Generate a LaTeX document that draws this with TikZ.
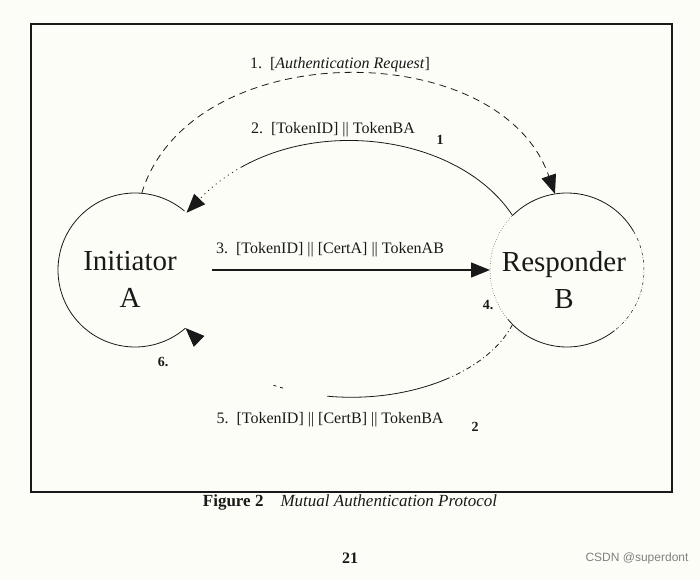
\documentclass[tikz,border=0pt]{standalone}
\usepackage{fontspec}
\setmainfont{Liberation Serif}
\setsansfont{Liberation Sans}
\usetikzlibrary{arrows.meta}
\definecolor{paper}{RGB}{253,253,248}
\definecolor{ink}{RGB}{25,25,25}

\begin{document}
\begin{tikzpicture}[x=1pt, y=1pt, draw=ink, line width=0.8pt,
    party/.style={circle, minimum size=154pt, inner sep=0pt, outer sep=0pt},
    partyname/.style={align=center, text=ink, font=\fontsize{29}{37}\selectfont},
    msg/.style={text=ink, font=\fontsize{16}{18}\selectfont},
    refnum/.style={text=ink, font=\bfseries\fontsize{14}{16}\selectfont},
    tip/.style={-{Triangle[length=19pt, width=15pt]}}]

    \fill[paper] (0,0) rectangle (700,580);
    \useasboundingbox (0,0) rectangle (700,580);
    \draw[line width=1.4pt] (31,88) rectangle (672,556);

    \node[party] (ini) at (135,310) {};
    \node[party] (resp) at (567,310) {};
    \node[partyname] (initxt) at ([shift={(-5pt,-9.5pt)}]ini.center) {Initiator\\A};
    \node[partyname] (resptxt) at ([shift={(-3pt,-9.5pt)}]resp.center) {Responder\\B};

    \draw (ini.50) arc[start angle=50, end angle=311, radius=77pt];

    \draw (resp.30) arc[start angle=30, end angle=135, radius=77pt];
    \draw[line width=0.5pt, dash dot] (resp.30) arc[start angle=30, end angle=-52, radius=77pt];
    \draw (resp.308) arc[start angle=-52, end angle=-140, radius=77pt];
    \draw[line width=0.5pt, dotted] (resp.220) arc[start angle=220, end angle=135, radius=77pt];

    \draw[tip, dash pattern=on 7pt off 5pt] (ini.85) .. controls (190,545) and (500,545) .. (resp.99);
    \draw[tip, dash pattern=on 300pt off 4pt on 1pt off 4pt on 1pt off 4pt on 1pt off 4pt on 1pt off 4pt on 1pt off 4pt on 1pt off 4pt on 1pt off 4pt on 1pt off 4pt on 1pt off 4pt on 1pt off 4pt on 1pt off 4pt on 1pt off 4pt on 1pt off 50pt]
        (resp.135) .. controls (455,452) and (285,470) .. (ini.48);
    \draw[tip, line width=1.3pt] (ini.east) -- (resp.west);
    \draw[tip, dash pattern=on 5pt off 3pt on 1pt off 3pt on 5pt off 3pt on 1pt off 3pt on 5pt off 3pt on 1pt off 3pt on 5pt off 3pt on 1pt off 3pt on 5pt off 3pt on 1pt off 3pt on 5pt off 3pt on 1pt off 3pt on 5pt off 3pt on 1pt off 3pt on 125pt off 45pt on 3pt off 4pt on 3pt off 200pt]
        (resp.225) .. controls (470,175) and (290,150) .. (ini.311);

    \node[msg] (m1) at (340,515) {1.\enspace[\textit{Authentication Request}]};
    \node[msg] (m2) at (333,450) {2.\enspace[TokenID] || TokenBA};
    \node[refnum] (n1) at (440,440) {1};
    \node[msg] (m3) at (330,330) {3.\enspace[TokenID] || [CertA] || TokenAB};
    \node[refnum] (m4) at (488,275) {4.};
    \node[msg] (m5) at (330,160) {5.\enspace[TokenID] || [CertB] || TokenBA};
    \node[refnum] (n2) at (475,153) {2};
    \node[refnum] (m6) at (163,218) {6.};

    \node[text=ink] (cap) at (350,78) {\fontsize{17}{20}\selectfont\textbf{Figure 2}\quad\textit{Mutual Authentication Protocol}};
    \node[text=ink] (page) at (350,22) {\bfseries\fontsize{16}{18}\selectfont 21};
    \node[text=gray] (mark) at (637,22) {\sffamily\fontsize{12}{14}\selectfont CSDN @superdont};

\end{tikzpicture}
\end{document}
